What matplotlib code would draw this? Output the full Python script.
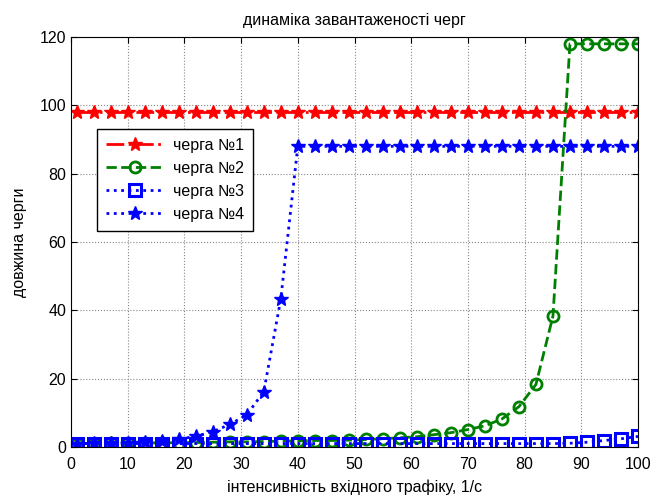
import matplotlib.pyplot as plt

plt.rcParams['font.family'] = ['Liberation Sans', 'DejaVu Sans']

# x values: every 3 units from 1 to 100
x = [1, 4, 7, 10, 13, 16, 19, 22, 25, 28, 31, 34, 37, 40, 43, 46, 49,
     52, 55, 58, 61, 64, 67, 70, 73, 76, 79, 82, 85, 88, 91, 94, 97, 100]

q1 = [98] * 34
q2 = [1.0, 1.0, 1.1, 1.1, 1.2, 1.2, 1.3, 1.3, 1.4, 1.5, 1.5, 1.6, 1.7,
      1.8, 1.9, 1.9, 2.0, 2.2, 2.4, 2.7, 3.0, 3.6, 4.2, 5.1, 6.2, 8.2,
      11.8, 18.3, 38.3, 118, 118, 118, 118, 118]
q3 = [1.0] * 29 + [1.1, 1.4, 1.9, 2.4, 3.1]
q4 = [1.0, 1.1, 1.2, 1.3, 1.5, 1.8, 2.3, 3.1, 4.5, 6.6, 9.4, 16.2, 43.3] + [88] * 21

labels = ['черга №1', 'черга №2', 'черга №3', 'черга №4']

fs = 11.5

fig = plt.figure(figsize=(6.52, 4.96), dpi=100)
ax = fig.add_axes([71 / 652, 49 / 496, 567 / 652, 410 / 496])

ax.plot(x, q1, color='red', linestyle='-.', marker='*', markersize=10, linewidth=2, label=labels[0])
ax.plot(x, q2, color='green', linestyle='--', marker='o', markersize=8, markerfacecolor='none',
        markeredgewidth=2, linewidth=2, label=labels[1])
ax.plot(x, q3, color='blue', linestyle=':', marker='s', markersize=8, markerfacecolor='none',
        markeredgewidth=2.2, linewidth=2, label=labels[2])
ax.plot(x, q4, color='blue', linestyle=':', marker='*', markersize=10, linewidth=2, label=labels[3])

ax.set_xlim(0, 100)
ax.set_ylim(0, 120)
ax.set_xticks(range(0, 101, 10))
ax.set_yticks(range(0, 121, 20))
ax.tick_params(direction='in', top=True, right=True, labelsize=fs, length=4)
ax.tick_params(axis='x', pad=7.5)
ax.tick_params(axis='y', pad=3.5)
ax.grid(True, color='#888888', linestyle=':', linewidth=0.8)

ax.set_title('динаміка завантаженості черг', fontsize=fs, pad=9)
ax.set_xlabel('інтенсивність вхідного трафіку, 1/с', fontsize=fs, labelpad=5)
ax.set_ylabel('довжина черги', fontsize=fs, labelpad=9)

leg = ax.legend(loc='upper left', bbox_to_anchor=(0.046, 0.775), fontsize=fs,
                fancybox=False, framealpha=1, edgecolor='black', handlelength=3.6,
                borderpad=0.55, labelspacing=0.5, handletextpad=0.6, borderaxespad=0)
leg.get_frame().set_linewidth(1)

fig.savefig('out.png', dpi=100)
